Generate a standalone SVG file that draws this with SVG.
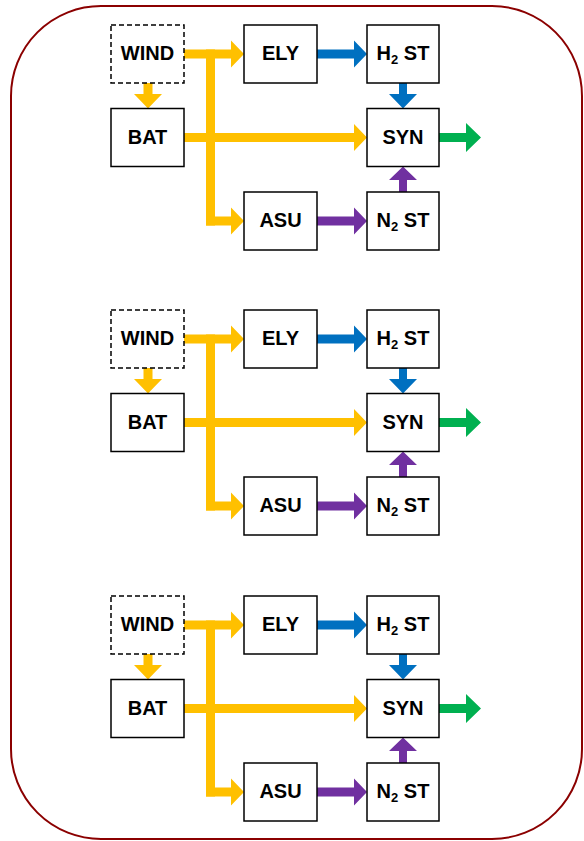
<svg xmlns="http://www.w3.org/2000/svg" width="584" height="841" viewBox="0 0 584 841">
<style>
.box{fill:#fff;stroke:#000;stroke-width:1.5}
.dash{fill:#fff;stroke:#000;stroke-width:1.5;stroke-dasharray:5 3}
.lbl{font-family:"Liberation Sans",Arial,sans-serif;font-weight:bold;font-size:20px;text-anchor:middle;fill:#000}
.sub{font-size:13px}
.y{fill:#FFC000}
.b{fill:#0070C0}
.p{fill:#7030A0}
.g{fill:#00B050}
</style>
<rect x="11" y="6" width="571" height="833" rx="90" ry="90" fill="#fff" stroke="#8B0000" stroke-width="2"/>

<g id="block1">
<g id="connectors1">
<polygon class="y" points="184,49.5 231,49.5 231,40.5 244,54 231,67.5 231,58.5 184,58.5"/>
<rect class="y" x="206" y="49.5" width="9" height="176"/>
<polygon class="y" points="206,216.5 231,216.5 231,207.5 244,221 231,234.5 231,225.5 206,225.5"/>
<polygon class="y" points="184,133 354,133 354,124 367,137.5 354,151 354,142 184,142"/>
<polygon class="y" points="143.5,83 152.5,83 152.5,94 162,94 148,108.5 134,94 143.5,94"/>
<polygon class="b" points="317,49.5 354,49.5 354,40.5 367,54 354,67.5 354,58.5 317,58.5"/>
<polygon class="b" points="399,83 407,83 407,94 417,94 403,108.5 389,94 399,94"/>
<polygon class="p" points="317,216.5 354,216.5 354,207.5 367,221 354,234.5 354,225.5 317,225.5"/>
<polygon class="p" points="399,192 407,192 407,180 417,180 403,166.5 389,180 399,180"/>
<polygon class="g" points="439,133 466,133 466,123 481,137.5 466,152 466,142 439,142"/>
</g>
<g id="wind1"><rect class="dash" x="111" y="25" width="73" height="58"/><text class="lbl" x="147.5" y="60">WIND</text></g>
<g id="bat1"><rect class="box" x="111" y="108.5" width="73" height="58"/><text class="lbl" x="147.5" y="143.5">BAT</text></g>
<g id="ely1"><rect class="box" x="244" y="25" width="73" height="58"/><text class="lbl" x="280.5" y="60">ELY</text></g>
<g id="h2st1"><rect class="box" x="367" y="25" width="72" height="58"/><text class="lbl" x="403" y="60">H<tspan class="sub" dy="4">2</tspan><tspan dy="-4"> ST</tspan></text></g>
<g id="syn1"><rect class="box" x="367" y="108.5" width="72" height="58"/><text class="lbl" x="403" y="143.5">SYN</text></g>
<g id="asu1"><rect class="box" x="244" y="192" width="73" height="58"/><text class="lbl" x="280.5" y="227">ASU</text></g>
<g id="n2st1"><rect class="box" x="367" y="192" width="72" height="58"/><text class="lbl" x="403" y="227">N<tspan class="sub" dy="4">2</tspan><tspan dy="-4"> ST</tspan></text></g>
</g>

<g id="block2" transform="translate(0,285)">
<g id="connectors2">
<polygon class="y" points="184,49.5 231,49.5 231,40.5 244,54 231,67.5 231,58.5 184,58.5"/>
<rect class="y" x="206" y="49.5" width="9" height="176"/>
<polygon class="y" points="206,216.5 231,216.5 231,207.5 244,221 231,234.5 231,225.5 206,225.5"/>
<polygon class="y" points="184,133 354,133 354,124 367,137.5 354,151 354,142 184,142"/>
<polygon class="y" points="143.5,83 152.5,83 152.5,94 162,94 148,108.5 134,94 143.5,94"/>
<polygon class="b" points="317,49.5 354,49.5 354,40.5 367,54 354,67.5 354,58.5 317,58.5"/>
<polygon class="b" points="399,83 407,83 407,94 417,94 403,108.5 389,94 399,94"/>
<polygon class="p" points="317,216.5 354,216.5 354,207.5 367,221 354,234.5 354,225.5 317,225.5"/>
<polygon class="p" points="399,192 407,192 407,180 417,180 403,166.5 389,180 399,180"/>
<polygon class="g" points="439,133 466,133 466,123 481,137.5 466,152 466,142 439,142"/>
</g>
<g id="wind2"><rect class="dash" x="111" y="25" width="73" height="58"/><text class="lbl" x="147.5" y="60">WIND</text></g>
<g id="bat2"><rect class="box" x="111" y="108.5" width="73" height="58"/><text class="lbl" x="147.5" y="143.5">BAT</text></g>
<g id="ely2"><rect class="box" x="244" y="25" width="73" height="58"/><text class="lbl" x="280.5" y="60">ELY</text></g>
<g id="h2st2"><rect class="box" x="367" y="25" width="72" height="58"/><text class="lbl" x="403" y="60">H<tspan class="sub" dy="4">2</tspan><tspan dy="-4"> ST</tspan></text></g>
<g id="syn2"><rect class="box" x="367" y="108.5" width="72" height="58"/><text class="lbl" x="403" y="143.5">SYN</text></g>
<g id="asu2"><rect class="box" x="244" y="192" width="73" height="58"/><text class="lbl" x="280.5" y="227">ASU</text></g>
<g id="n2st2"><rect class="box" x="367" y="192" width="72" height="58"/><text class="lbl" x="403" y="227">N<tspan class="sub" dy="4">2</tspan><tspan dy="-4"> ST</tspan></text></g>
</g>

<g id="block3" transform="translate(0,571)">
<g id="connectors3">
<polygon class="y" points="184,49.5 231,49.5 231,40.5 244,54 231,67.5 231,58.5 184,58.5"/>
<rect class="y" x="206" y="49.5" width="9" height="176"/>
<polygon class="y" points="206,216.5 231,216.5 231,207.5 244,221 231,234.5 231,225.5 206,225.5"/>
<polygon class="y" points="184,133 354,133 354,124 367,137.5 354,151 354,142 184,142"/>
<polygon class="y" points="143.5,83 152.5,83 152.5,94 162,94 148,108.5 134,94 143.5,94"/>
<polygon class="b" points="317,49.5 354,49.5 354,40.5 367,54 354,67.5 354,58.5 317,58.5"/>
<polygon class="b" points="399,83 407,83 407,94 417,94 403,108.5 389,94 399,94"/>
<polygon class="p" points="317,216.5 354,216.5 354,207.5 367,221 354,234.5 354,225.5 317,225.5"/>
<polygon class="p" points="399,192 407,192 407,180 417,180 403,166.5 389,180 399,180"/>
<polygon class="g" points="439,133 466,133 466,123 481,137.5 466,152 466,142 439,142"/>
</g>
<g id="wind3"><rect class="dash" x="111" y="25" width="73" height="58"/><text class="lbl" x="147.5" y="60">WIND</text></g>
<g id="bat3"><rect class="box" x="111" y="108.5" width="73" height="58"/><text class="lbl" x="147.5" y="143.5">BAT</text></g>
<g id="ely3"><rect class="box" x="244" y="25" width="73" height="58"/><text class="lbl" x="280.5" y="60">ELY</text></g>
<g id="h2st3"><rect class="box" x="367" y="25" width="72" height="58"/><text class="lbl" x="403" y="60">H<tspan class="sub" dy="4">2</tspan><tspan dy="-4"> ST</tspan></text></g>
<g id="syn3"><rect class="box" x="367" y="108.5" width="72" height="58"/><text class="lbl" x="403" y="143.5">SYN</text></g>
<g id="asu3"><rect class="box" x="244" y="192" width="73" height="58"/><text class="lbl" x="280.5" y="227">ASU</text></g>
<g id="n2st3"><rect class="box" x="367" y="192" width="72" height="58"/><text class="lbl" x="403" y="227">N<tspan class="sub" dy="4">2</tspan><tspan dy="-4"> ST</tspan></text></g>
</g>
</svg>
